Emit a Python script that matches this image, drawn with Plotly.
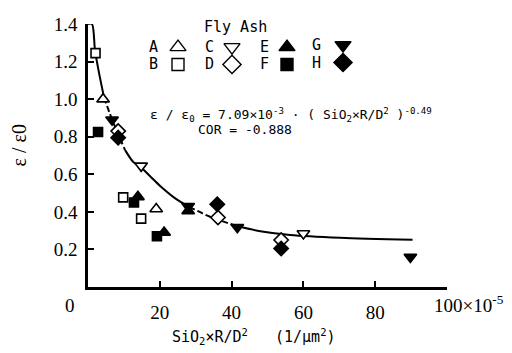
import plotly.graph_objects as go

# ---------------- data ----------------
curve_x = [0.0, 1.1, 1.95, 3.07, 4.46, 6.14, 8.37, 10.3, 12.55, 14.8, 17.3, 20.1,
           24.3, 28.2, 34.0, 41.6, 48.0, 56.3, 70.3, 90.4]
curve_y = [1.40, 1.40, 1.26, 1.14, 1.01, 0.92, 0.815, 0.73, 0.667, 0.636, 0.59, 0.538,
           0.472, 0.426, 0.374, 0.323, 0.297, 0.277, 0.262, 0.251]

A_x = [4.2, 19.0];            A_y = [1.00, 0.415]
B_x = [2.1, 9.8, 14.8];       B_y = [1.245, 0.477, 0.364]
C_x = [14.8, 60.0];           C_y = [0.645, 0.285]
D_x = [8.4, 36.2, 53.8];      D_y = [0.83, 0.37, 0.25]
E_x = [13.9, 21.2, 27.9];     E_y = [0.48, 0.29, 0.405]
F_x = [2.8, 12.8, 19.2];      F_y = [0.825, 0.45, 0.27]
G_x = [6.7, 27.9, 41.6, 89.8]; G_y = [0.89, 0.43, 0.318, 0.16]
H_x = [8.4, 36.0, 53.8];      H_y = [0.795, 0.44, 0.205]

series_names = ["A", "B", "C", "D", "E", "F", "G", "H"]
x_tickvals = [20, 40, 60, 80, 100]
x_ticktext = ["20", "40", "60", "80", ""]
y_tickvals = [0.2, 0.4, 0.6, 0.8, 1.0, 1.2, 1.4]
y_ticktext = ["0.2", "0.4", "0.6", "0.8", "1.0", "1.2", "1.4"]

# ---------------- layout geometry ----------------
OX, OY = 8, 8                      # page offset of the plot div
W, H = 512 - OX, 353 - OY
PL, PT, PR, PBOT = 88, 14, 447, 287  # plot area in screen pixels
L, T = PL - OX, PT - OY
PW, PH = PR - PL, PBOT - PT
R, B = W - L - PW, H - T - PH


def fx(px):
    return (px - PL) / PW


def fy(py):
    return (PBOT - py) / PH


serif = "Liberation Serif, Times New Roman, DejaVu Serif, serif"
mono = "DejaVu Sans Mono, Liberation Mono, monospace"

styles = {
    "A": dict(symbol="triangle-up", color="white", size=11),
    "B": dict(symbol="square", color="white", size=9),
    "C": dict(symbol="triangle-down", color="white", size=11),
    "D": dict(symbol="diamond", color="white", size=11),
    "E": dict(symbol="triangle-up", color="black", size=11),
    "F": dict(symbol="square", color="black", size=9),
    "G": dict(symbol="triangle-down", color="black", size=11),
    "H": dict(symbol="diamond", color="black", size=11),
}
data = {"A": (A_x, A_y), "B": (B_x, B_y), "C": (C_x, C_y), "D": (D_x, D_y),
        "E": (E_x, E_y), "F": (F_x, F_y), "G": (G_x, G_y), "H": (H_x, H_y)}

fig = go.Figure()

# fitted curve, solid and dashed pieces
segments = [(0, 4, "solid"), (4, 7, "6px,3px"), (7, 13, "solid"),
            (13, 15, "6px,3px"), (15, 19, "solid")]
for i0, i1, dash in segments:
    fig.add_trace(go.Scatter(
        x=curve_x[i0:i1 + 1], y=curve_y[i0:i1 + 1], mode="lines",
        line=dict(color="black", width=2, dash=dash, shape="spline", smoothing=0.8),
        showlegend=False, hoverinfo="skip", cliponaxis=True))

for name in series_names:
    xs, ys = data[name]
    st = styles[name]
    fig.add_trace(go.Scatter(
        x=xs, y=ys, mode="markers", name=name, showlegend=False,
        marker=dict(symbol=st["symbol"], size=st["size"], color=st["color"],
                    line=dict(color="black", width=1.6)),
        cliponaxis=False))

# custom legend (letter then symbol), drawn on an overlay axis in paper units
leg_pos = {
    "A": (153, 178, 38), "B": (153, 178, 56),
    "C": (209, 232, 38), "D": (209, 232, 56),
    "E": (264, 287, 38), "F": (264, 287, 56),
    "G": (316, 343, 36), "H": (316, 343, 54),
}


def ann(px, py, text, size, family, xanchor="center", **kw):
    d = dict(xref="paper", yref="paper", x=fx(px), y=fy(py), text=text,
             showarrow=False, xanchor=xanchor, yanchor="middle",
             font=dict(family=family, size=size, color="black"))
    d.update(kw)
    return d


annotations = []
for name in series_names:
    lx, sx, yy = leg_pos[name]
    st = styles[name]
    fig.add_trace(go.Scatter(
        x=[fx(sx)], y=[fy(yy)], xaxis="x2", yaxis="y2", mode="markers",
        marker=dict(symbol=st["symbol"], size=st["size"] + 3, color=st["color"],
                    line=dict(color="black", width=1.4)),
        showlegend=False, hoverinfo="skip", cliponaxis=False))
    annotations.append(ann(lx, yy, name, 15, mono))

annotations += [
    ann(235, 17, "Fly Ash", 15, mono),
    ann(148, 108,
        "ε / ε<sub>0</sub> = 7.09×10<sup>-3</sup> · ( SiO<sub>2</sub>×R/D<sup>2</sup> )<sup>-0.49</sup>",
        13, mono, xanchor="left"),
    ann(196, 123, "COR = -0.888", 13, mono, xanchor="left"),
    ann(70, 306, "0", 19, serif),
    ann(432, 305, "100×10<sup>-5</sup>", 19, serif, xanchor="left"),
    ann(253, 338, "SiO<sub>2</sub>×R/D<sup>2</sup>   (1/μm<sup>2</sup>)", 15, mono),
    ann(19, 140, "ε / ε0", 20, serif, textangle=-90),
]

axis_common = dict(showgrid=False, zeroline=False, showline=True, linecolor="black",
                   linewidth=2.5, ticks="inside", ticklen=6, tickwidth=2,
                   tickcolor="black", ticklabeloverflow="allow",
                   tickfont=dict(family=serif, size=19, color="black"))

fig.update_layout(
    width=W, height=H, margin=dict(l=L, r=R, t=T, b=B),
    plot_bgcolor="white", paper_bgcolor="white", showlegend=False,
    xaxis=dict(range=[0, 100], tickmode="array", tickvals=x_tickvals,
               ticktext=x_ticktext, ticklabelstandoff=6, **axis_common),
    yaxis=dict(range=[0, 1.4], tickmode="array", tickvals=y_tickvals,
               ticktext=y_ticktext, ticklabelstandoff=4, **axis_common),
    xaxis2=dict(range=[0, 1], overlaying="x", visible=False, fixedrange=True),
    yaxis2=dict(range=[0, 1], overlaying="y", visible=False, fixedrange=True),
    annotations=annotations,
)

fig.write_html("out.html")
